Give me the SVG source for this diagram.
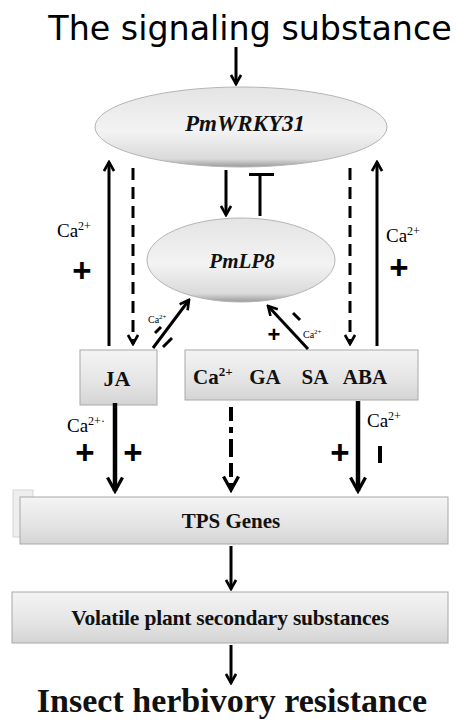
<svg xmlns="http://www.w3.org/2000/svg" width="460" height="721" viewBox="0 0 460 721">
<defs>
<linearGradient id="eg" x1="0" y1="0" x2="0" y2="1">
<stop offset="0" stop-color="#e4e4e4"/>
<stop offset="0.55" stop-color="#f3f3f3"/>
<stop offset="0.9" stop-color="#dadada"/>
<stop offset="1" stop-color="#9a9a9a"/>
</linearGradient>
<linearGradient id="bg" x1="0" y1="0" x2="0" y2="1">
<stop offset="0" stop-color="#f4f4f4"/>
<stop offset="0.6" stop-color="#e4e4e4"/>
<stop offset="1" stop-color="#d4d4d4"/>
</linearGradient>
<marker id="ah" viewBox="0 0 12 12" refX="10" refY="6" markerWidth="12" markerHeight="12" markerUnits="userSpaceOnUse" orient="auto">
<path d="M1,1 L10,6 L1,11" fill="none" stroke="#000" stroke-width="2.6"/>
</marker>
<marker id="ahL" viewBox="0 0 12 12" refX="10" refY="6" markerWidth="18" markerHeight="18" markerUnits="userSpaceOnUse" orient="auto">
<path d="M1,1 L10,6 L1,11" fill="none" stroke="#000" stroke-width="2.2"/>
</marker>
</defs>
<style>
.ln{stroke:#000;stroke-width:3;fill:none}
.th{stroke:#000;stroke-width:4.5;fill:none}
.ds{stroke:#000;stroke-width:3;fill:none;stroke-dasharray:12,7}
.box{fill:url(#bg);stroke:#a8a8a8;stroke-width:1}
.ell{fill:url(#eg);stroke:#b5b5b5;stroke-width:1}
.bs{font-family:"Liberation Serif",serif;font-weight:bold;fill:#111}
.rs{font-family:"Liberation Serif",serif;fill:#000}
.sym{font-family:"Liberation Sans",sans-serif;font-weight:bold;fill:#000}
</style>

<g id="title">
<text x="250" y="40" text-anchor="middle" font-family="DejaVu Sans, sans-serif" font-size="33.3" fill="#000">The signaling substance</text>
</g>

<g id="PmWRKY31">
<ellipse class="ell" cx="241" cy="127" rx="146" ry="40"/>
<text class="bs" x="245" y="131" font-size="23" font-style="italic" text-anchor="middle">PmWRKY31</text>
</g>

<g id="PmLP8">
<ellipse class="ell" cx="241" cy="260" rx="94" ry="42"/>
<text class="bs" x="242" y="268" font-size="21" font-style="italic" text-anchor="middle">PmLP8</text>
</g>

<g id="JA">
<rect class="box" x="80" y="350" width="77" height="55"/>
<text class="bs" x="117" y="386" font-size="22" text-anchor="middle">JA</text>
</g>

<g id="hormones">
<rect class="box" x="185" y="350" width="233" height="50"/>
<text class="bs" x="193" y="384" font-size="21">Ca<tspan font-size="13" dy="-8">2+</tspan></text>
<text class="bs" x="265" y="384" font-size="21" text-anchor="middle">GA</text>
<text class="bs" x="315" y="384" font-size="21" text-anchor="middle">SA</text>
<text class="bs" x="365" y="384" font-size="21" text-anchor="middle">ABA</text>
</g>

<g id="TPS">
<rect x="13" y="490" width="20" height="47" fill="#eeeeee" stroke="#d6d6d6" stroke-width="1"/>
<rect class="box" x="20" y="497" width="428" height="47"/>
<text class="bs" x="231" y="528" font-size="21" text-anchor="middle">TPS Genes</text>
</g>

<g id="volatile">
<rect class="box" x="12" y="592" width="436" height="51"/>
<text class="bs" x="230" y="625" font-size="21.5" text-anchor="middle" letter-spacing="-0.2">Volatile plant secondary substances</text>
</g>

<g id="resistance">
<text class="bs" x="232" y="712" font-size="34" text-anchor="middle" fill="#000">Insect herbivory resistance</text>
</g>

<g id="connectors">
<line class="ln" x1="236" y1="47" x2="236" y2="84" marker-end="url(#ah)"/>
<line class="ln" x1="109" y1="346" x2="109" y2="162" marker-end="url(#ah)"/>
<line class="ds" x1="133" y1="168" x2="133" y2="344" marker-end="url(#ah)"/>
<line class="ds" x1="350" y1="168" x2="350" y2="344" marker-end="url(#ah)"/>
<line class="ln" x1="377" y1="346" x2="377" y2="162" marker-end="url(#ah)"/>
<line class="ln" x1="226" y1="170" x2="226" y2="215" marker-end="url(#ah)"/>
<line class="ln" x1="260" y1="216" x2="260" y2="175"/>
<line class="ln" x1="249" y1="174.5" x2="274" y2="174.5"/>
<line class="ln" x1="153" y1="348" x2="189" y2="300" marker-end="url(#ah)"/>
<line x1="155" y1="333" x2="161" y2="327" stroke="#000" stroke-width="3"/>
<line x1="163" y1="347" x2="172" y2="338" stroke="#000" stroke-width="3"/>
<line class="ln" x1="308" y1="349" x2="268" y2="306" marker-end="url(#ah)"/>
<line x1="293" y1="313" x2="300" y2="320" stroke="#000" stroke-width="3"/>
<line class="th" x1="115" y1="403" x2="115" y2="491" marker-end="url(#ahL)"/>
<line x1="231" y1="407" x2="231" y2="490" stroke="#000" stroke-width="4" stroke-dasharray="14,6,6,6,18,6" marker-end="url(#ahL)"/>
<line class="th" x1="358" y1="401" x2="358" y2="491" marker-end="url(#ahL)"/>
<line class="ln" x1="231" y1="546" x2="231" y2="589" marker-end="url(#ah)"/>
<line class="ln" x1="231" y1="645" x2="231" y2="683" marker-end="url(#ah)"/>
</g>

<g id="labels">
<text class="rs" x="57" y="237" font-size="19">Ca<tspan font-size="12" dy="-7">2+</tspan></text>
<text class="sym" x="82" y="282" font-size="33" text-anchor="middle">+</text>
<text class="rs" x="386" y="242" font-size="19">Ca<tspan font-size="12" dy="-7">2+</tspan></text>
<text class="sym" x="399" y="279" font-size="33" text-anchor="middle">+</text>
<text class="rs" x="148" y="323" font-size="10">Ca<tspan font-size="7" dy="-4">2+</tspan></text>
<text class="sym" x="274" y="342" font-size="22" text-anchor="middle">+</text>
<text class="rs" x="303" y="338" font-size="10">Ca<tspan font-size="7" dy="-4">2+</tspan></text>
<text class="rs" x="67" y="432" font-size="19">Ca<tspan font-size="12" dy="-7">2+·</tspan></text>
<text class="sym" x="85" y="464" font-size="33" text-anchor="middle">+</text>
<text class="sym" x="133" y="464" font-size="33" text-anchor="middle">+</text>
<text class="rs" x="367" y="427" font-size="19">Ca<tspan font-size="12" dy="-7">2+</tspan></text>
<text class="sym" x="340" y="464" font-size="33" text-anchor="middle">+</text>
<line x1="380" y1="446" x2="380" y2="463" stroke="#000" stroke-width="4"/>
</g>
</svg>
